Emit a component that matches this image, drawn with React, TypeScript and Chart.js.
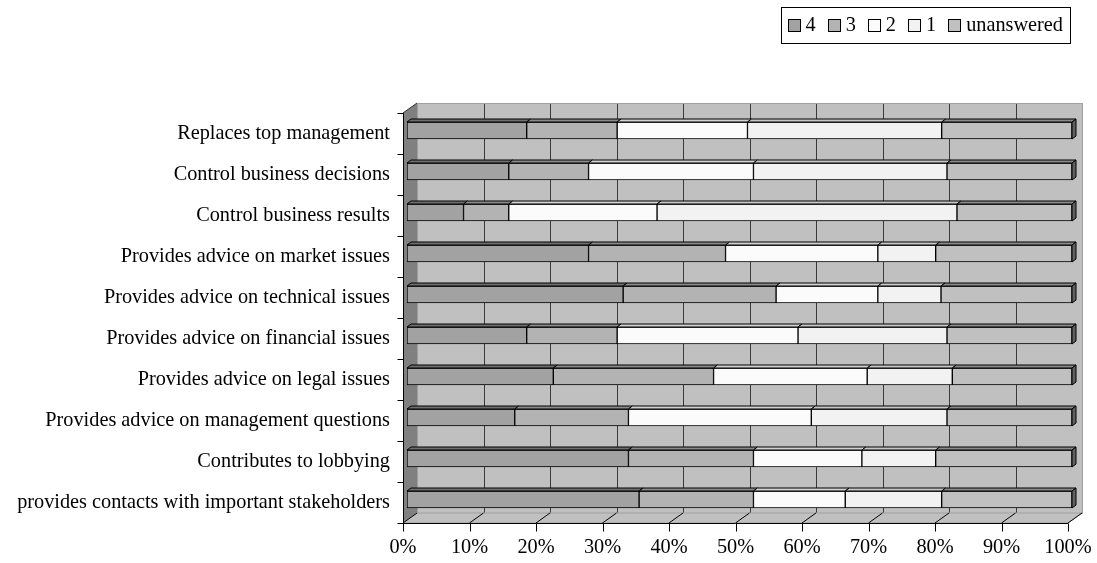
import React, { useEffect, useRef } from "react";
import { Chart, registerables } from "chart.js";

Chart.register(...registerables);

const categories = [
  "Replaces top management",
  "Control business decisions",
  "Control business results",
  "Provides advice on market issues",
  "Provides advice on technical issues",
  "Provides advice on financial issues",
  "Provides advice on legal issues",
  "Provides advice on management questions",
  "Contributes to lobbying",
  "provides contacts with important stakeholders",
];

const seriesLabels = ["4", "3", "2", "1", "unanswered"];

const score4 = [18.0, 15.3, 8.5, 27.3, 32.5, 18.0, 22.0, 16.2, 33.3, 34.9];
const score3 = [13.6, 12.0, 6.8, 20.6, 23.0, 13.6, 24.1, 17.1, 18.8, 17.2];
const score2 = [19.6, 24.8, 22.3, 22.9, 15.3, 27.2, 23.1, 27.5, 16.3, 13.8];
const score1 = [29.2, 29.1, 45.1, 8.7, 9.5, 22.4, 12.8, 20.4, 11.1, 14.5];
const unanswered = [19.6, 18.8, 17.3, 20.5, 19.7, 18.8, 18.0, 18.8, 20.5, 19.6];

const xTickValues = [0, 10, 20, 30, 40, 50, 60, 70, 80, 90, 100];

const FONT_FAMILY = '"Liberation Serif", "Times New Roman", serif';
const FONT_SIZE = 20.3;

const frontColors = ["#a2a2a2", "#b3b3b3", "#fbfbfb", "#f2f2f2", "#c0c0c0"];
const topColors = ["#6e6e6e", "#8a8a8a", "#d2d2d2", "#c8c8c8", "#8a8a8a"];

// 3D offsets relative to the bar plane
const FX = -4, FY = 3; // front plane
const BX = 10, BY = -7; // back wall
const DX = 4, DY = 3; // bar depth

const threeDPlugin = {
  id: "threeD",
  beforeDatasetsDraw(chart: any) {
    const ctx = chart.ctx;
    const xs = chart.scales.x;
    const { top, bottom } = chart.chartArea;
    const x0 = xs.getPixelForValue(0);
    const x1 = xs.getPixelForValue(100);
    const fL = x0 + FX, fR = x1 + FX, fT = top + FY, fB = bottom + FY;
    const bL = x0 + BX, bR = x1 + BX, bT = top + BY, bB = bottom + BY;
    ctx.save();
    // back wall
    ctx.fillStyle = "#c0c0c0";
    ctx.fillRect(bL, bT, bR - bL, bB - bT);
    ctx.lineWidth = 1;
    ctx.strokeStyle = "#3a3a3a";
    for (const v of xTickValues) {
      if (v === 0 || v === 100) continue;
      const px = Math.round(xs.getPixelForValue(v) + BX) + 0.5;
      ctx.beginPath();
      ctx.moveTo(px, bT);
      ctx.lineTo(px, bB);
      ctx.stroke();
    }
    ctx.strokeStyle = "#a0a0a0";
    ctx.strokeRect(Math.round(bL) + 0.5, Math.round(bT) + 0.5, Math.round(bR - bL), Math.round(bB - bT));
    // left wall
    ctx.fillStyle = "#808080";
    ctx.beginPath();
    ctx.moveTo(fL, fT);
    ctx.lineTo(bL, bT);
    ctx.lineTo(bL, bB);
    ctx.lineTo(fL, fB);
    ctx.closePath();
    ctx.fill();
    ctx.strokeStyle = "#303030";
    ctx.beginPath();
    ctx.moveTo(fL, fT);
    ctx.lineTo(bL, bT);
    ctx.stroke();
    // floor
    ctx.fillStyle = "#c0c0c0";
    ctx.beginPath();
    ctx.moveTo(fL, fB);
    ctx.lineTo(bL, bB);
    ctx.lineTo(bR, bB);
    ctx.lineTo(fR, fB);
    ctx.closePath();
    ctx.fill();
    ctx.strokeStyle = "#a0a0a0";
    ctx.stroke();
    ctx.strokeStyle = "#000";
    for (const v of xTickValues) {
      const p = xs.getPixelForValue(v);
      ctx.beginPath();
      ctx.moveTo(p + FX, fB);
      ctx.lineTo(p + BX, bB);
      ctx.stroke();
    }
    // category axis
    const axX = Math.round(fL) + 0.5;
    ctx.beginPath();
    ctx.moveTo(axX, fT);
    ctx.lineTo(axX, fB);
    ctx.stroke();
    const band = (fB - fT) / categories.length;
    for (let k = 0; k <= categories.length; k++) {
      const py = Math.round(fT + band * k) + 0.5;
      ctx.beginPath();
      ctx.moveTo(axX - 6, py);
      ctx.lineTo(axX, py);
      ctx.stroke();
    }
    // value axis
    const axY = Math.round(fB) + 0.5;
    ctx.beginPath();
    ctx.moveTo(fL, axY);
    ctx.lineTo(fR, axY);
    ctx.stroke();
    for (const v of xTickValues) {
      const px = Math.round(xs.getPixelForValue(v) + FX) + 0.5;
      ctx.beginPath();
      ctx.moveTo(px, axY);
      ctx.lineTo(px, axY + 8);
      ctx.stroke();
    }
    ctx.restore();
  },
  afterDatasetsDraw(chart: any) {
    const ctx = chart.ctx;
    ctx.save();
    ctx.lineWidth = 1;
    ctx.strokeStyle = "#000";
    const n = chart.data.datasets.length;
    chart.data.datasets.forEach((ds: any, di: number) => {
      const meta = chart.getDatasetMeta(di);
      meta.data.forEach((el: any) => {
        const p = el.getProps(["x", "y", "base", "height"], true);
        const l = Math.min(p.x, p.base);
        const r = Math.max(p.x, p.base);
        const t = p.y - p.height / 2;
        const b = p.y + p.height / 2;
        ctx.fillStyle = topColors[di];
        ctx.beginPath();
        ctx.moveTo(l, t);
        ctx.lineTo(l + DX, t - DY);
        ctx.lineTo(r + DX, t - DY);
        ctx.lineTo(r, t);
        ctx.closePath();
        ctx.fill();
        ctx.stroke();
        if (di === n - 1) {
          ctx.fillStyle = "#606060";
          ctx.beginPath();
          ctx.moveTo(r, t);
          ctx.lineTo(r + DX, t - DY);
          ctx.lineTo(r + DX, b - DY);
          ctx.lineTo(r, b);
          ctx.closePath();
          ctx.fill();
          ctx.stroke();
        }
      });
    });
    ctx.restore();
  },
  afterDraw(chart: any) {
    const ctx = chart.ctx;
    ctx.save();
    ctx.font = `${FONT_SIZE}px ${FONT_FAMILY}`;
    const sw = 12, gapIn = 6, gapOut = 12, pad = 7;
    const widths = seriesLabels.map((s) => ctx.measureText(s).width);
    let total = pad * 2;
    widths.forEach((w, i) => {
      total += sw + gapIn + w + (i < widths.length - 1 ? gapOut : 0);
    });
    const right = 1070;
    const left = right - total;
    const boxTop = 7, boxBottom = 43;
    const cy = (boxTop + boxBottom) / 2;
    ctx.fillStyle = "#fff";
    ctx.fillRect(left, boxTop, total, boxBottom - boxTop);
    ctx.strokeStyle = "#000";
    ctx.lineWidth = 1;
    ctx.strokeRect(Math.round(left) + 0.5, boxTop + 0.5, Math.round(total), boxBottom - boxTop);
    let x = left + pad;
    ctx.textBaseline = "middle";
    ctx.textAlign = "left";
    seriesLabels.forEach((s, i) => {
      const sx = Math.round(x) + 0.5;
      const sy = Math.round(cy - sw / 2) + 0.5;
      ctx.fillStyle = frontColors[i];
      ctx.fillRect(sx, sy, sw, sw);
      ctx.strokeRect(sx, sy, sw, sw);
      x += sw + gapIn;
      ctx.fillStyle = "#000";
      ctx.fillText(s, x, cy + 1);
      x += widths[i] + gapOut;
    });
    ctx.restore();
  },
};

export default function App() {
  const canvasRef = useRef<HTMLCanvasElement | null>(null);

  useEffect(() => {
    document.body.style.margin = "0";
    const canvas = canvasRef.current;
    if (!canvas) return;
    const seriesData = [score4, score3, score2, score1, unanswered];
    const chart = new Chart(canvas, {
      type: "bar",
      data: {
        labels: categories,
        datasets: seriesLabels.map((label, i) => ({
          label,
          data: seriesData[i],
          backgroundColor: frontColors[i],
          borderColor: "#000",
          borderWidth: 1,
          borderSkipped: false,
          barThickness: 17,
        })),
      },
      options: {
        indexAxis: "y",
        responsive: false,
        animation: false,
        layout: { padding: { left: 0, right: 25, top: 110, bottom: 0 } },
        plugins: {
          legend: { display: false },
          tooltip: { enabled: false },
        },
        scales: {
          x: {
            stacked: true,
            min: 0,
            max: 100,
            afterBuildTicks: (scale: any) => {
              scale.ticks = xTickValues.map((v) => ({ value: v }));
            },
            afterFit: (scale: any) => {
              scale.height = 43;
              scale.paddingLeft = 0;
              scale.paddingRight = 0;
            },
            grid: { display: false, drawTicks: false },
            border: { display: false },
            ticks: {
              color: "#000",
              padding: 15,
              labelOffset: -4,
              maxRotation: 0,
              autoSkip: false,
              font: { family: FONT_FAMILY, size: FONT_SIZE },
              callback: (v: any) => `${v}%`,
            },
          },
          y: {
            stacked: true,
            afterFit: (scale: any) => {
              scale.width = 407;
              scale.paddingTop = 0;
              scale.paddingBottom = 0;
            },
            grid: { display: false, drawTicks: false },
            border: { display: false },
            ticks: {
              color: "#000",
              padding: 17,
              labelOffset: 3,
              autoSkip: false,
              font: { family: FONT_FAMILY, size: FONT_SIZE },
            },
          },
        },
      },
      plugins: [threeDPlugin],
    } as any);
    return () => chart.destroy();
  }, []);

  return (
    <div style={{ width: 1097, height: 563 }}>
      <canvas ref={canvasRef} width={1097} height={563} style={{ display: "block" }} />
    </div>
  );
}
